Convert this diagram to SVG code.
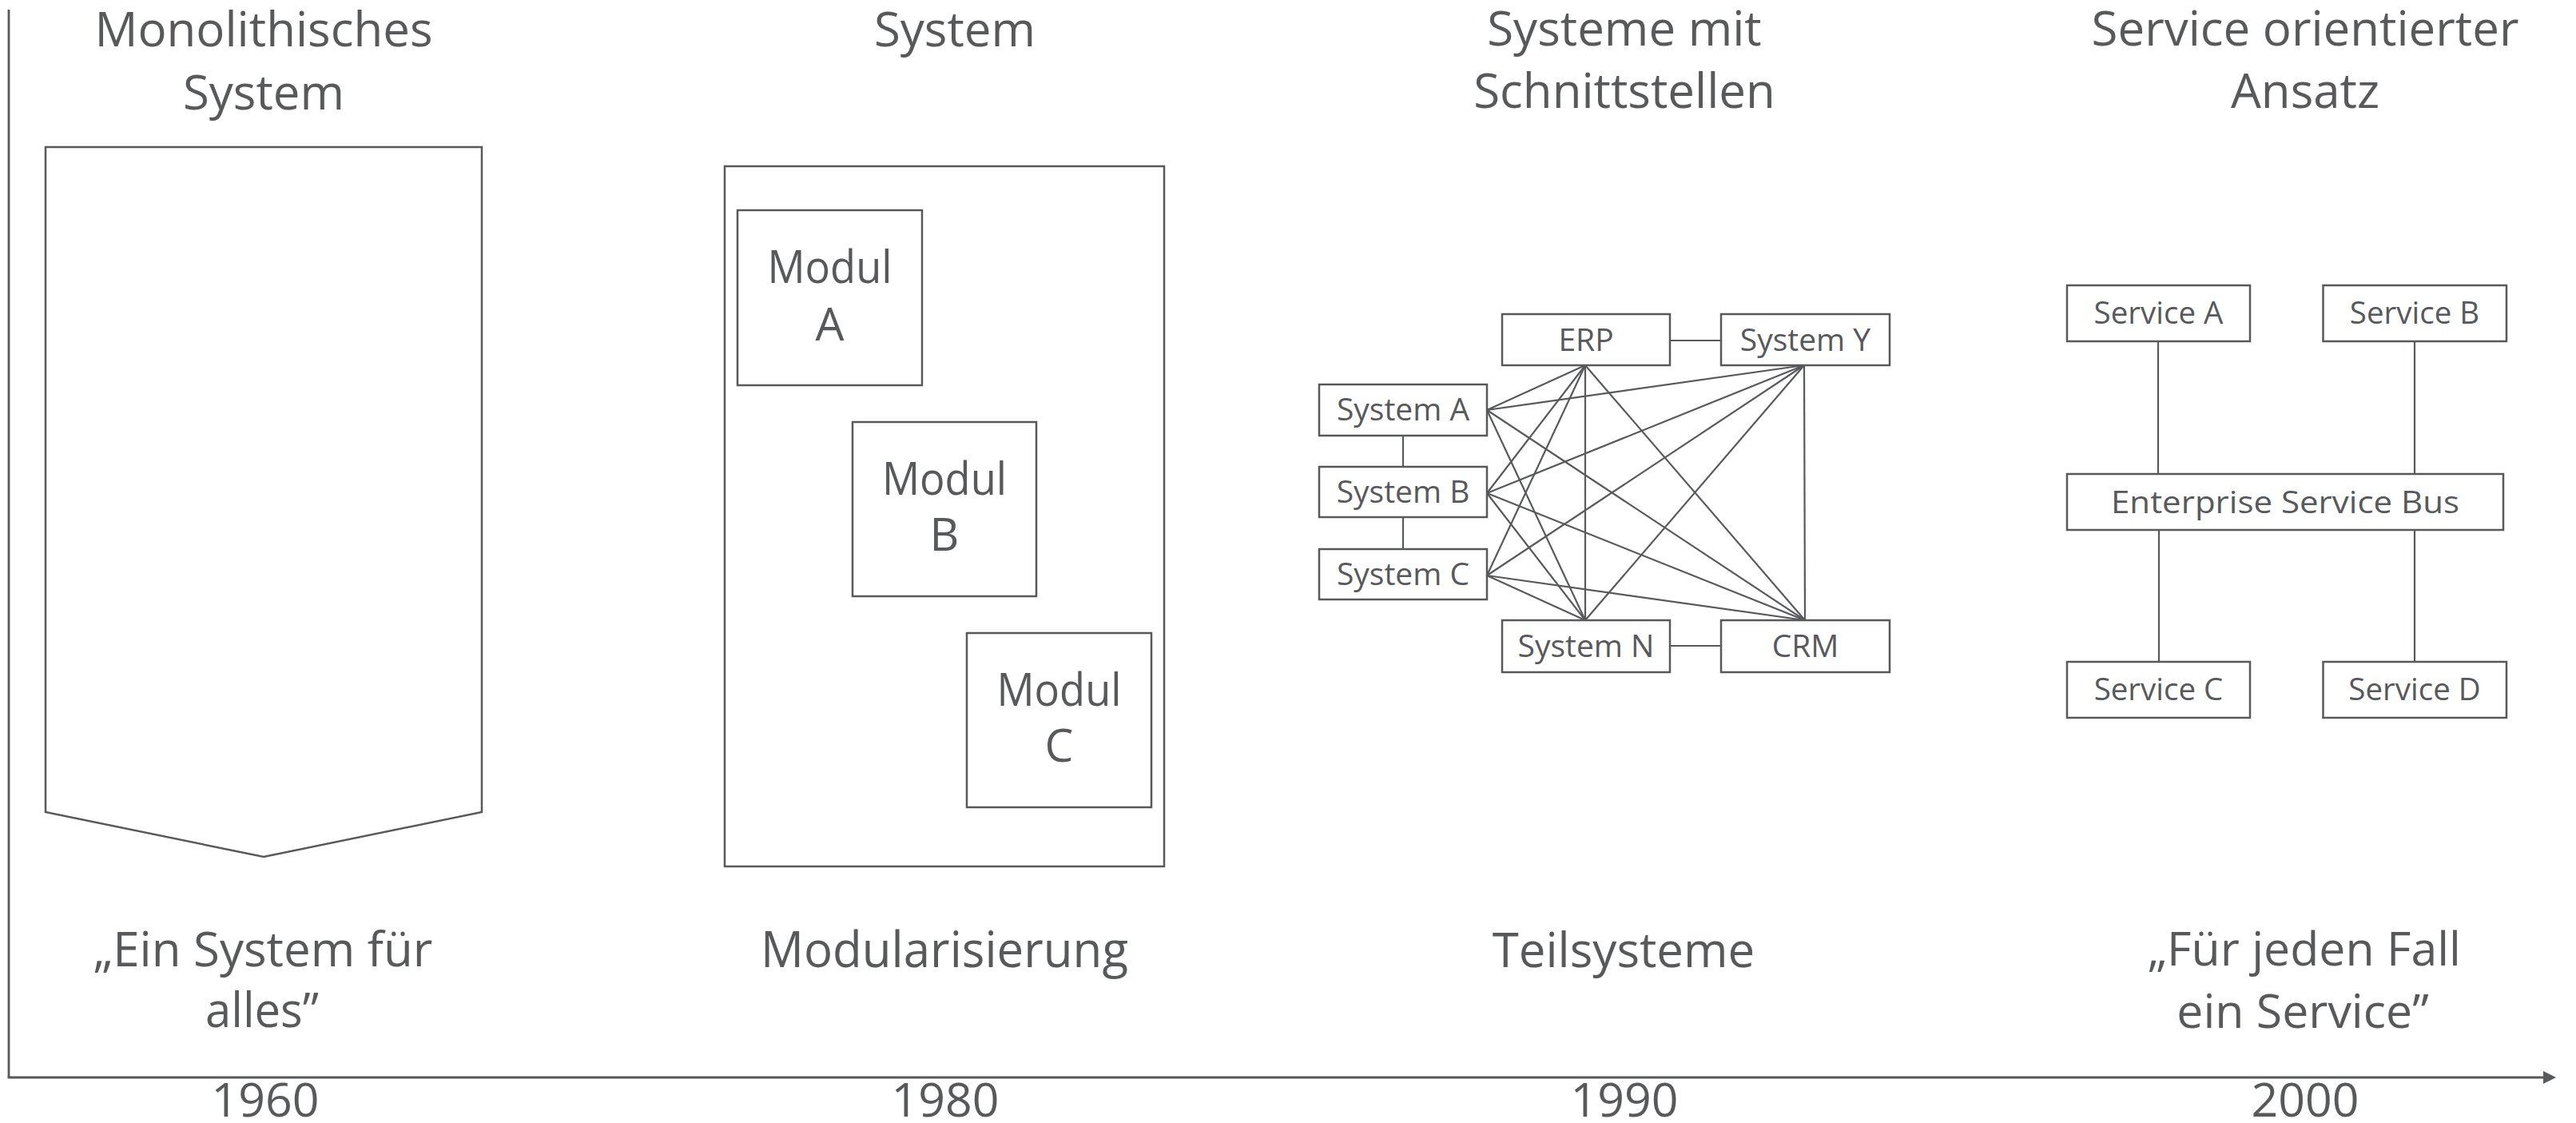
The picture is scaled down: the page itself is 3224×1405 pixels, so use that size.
<svg xmlns="http://www.w3.org/2000/svg" width="3224" height="1405" viewBox="0 0 3224 1405">
<style>
  text { font-family: "Open Sans", "Noto Sans", "Liberation Sans", sans-serif; fill: #58595b; text-anchor: middle; }
  .title { font-size: 60px; }
  .bottom { font-size: 60px; }
  .year { font-size: 59px; }
  .sys { font-size: 39px; }
  .svc { font-size: 38.5px; }
  .mod { font-size: 57px; }
  .box { fill: #ffffff; stroke: #58595b; stroke-width: 2.5; }
  .ln { stroke: #58595b; stroke-width: 2.2; fill: none; }
  .axis { stroke: #58595b; stroke-width: 2.8; fill: none; }
</style>
<rect width="3224" height="1405" fill="#ffffff"/>

<!-- Axis -->
<g id="axis">
  <line class="axis" x1="11" y1="12" x2="11" y2="1348"/>
  <line class="axis" x1="9.6" y1="1348" x2="3186" y2="1348"/>
  <polygon points="3183,1340 3199,1348 3183,1356" fill="#58595b"/>
  <text class="year" x="332" y="1397">1960</text>
  <text class="year" x="1183" y="1397">1980</text>
  <text class="year" x="2033" y="1397">1990</text>
  <text class="year" x="2885" y="1397">2000</text>
</g>

<!-- Titles -->
<g id="titles">
  <text class="title" x="330" y="58">Monolithisches</text>
  <text class="title" x="330" y="137">System</text>
  <text class="title" x="1195" y="58">System</text>
  <text class="title" x="2033" y="57">Systeme mit</text>
  <text class="title" x="2033" y="135">Schnittstellen</text>
  <text class="title" x="2885" y="57">Service orientierter</text>
  <text class="title" x="2885" y="135">Ansatz</text>
</g>

<!-- Bottom captions -->
<g id="captions">
  <text class="bottom" x="329" y="1209">„Ein System für</text>
  <text class="bottom" x="328" y="1285" textLength="142" lengthAdjust="spacingAndGlyphs">alles”</text>
  <text class="bottom" x="1182" y="1210" style="font-size:62px" textLength="460" lengthAdjust="spacingAndGlyphs">Modularisierung</text>
  <text class="bottom" x="2032" y="1210">Teilsysteme</text>
  <text class="bottom" x="2884" y="1208" style="font-size:59px">„Für jeden Fall</text>
  <text class="bottom" x="2882" y="1286" style="font-size:59px">ein Service”</text>
</g>

<!-- 1960: monolith -->
<g id="monolith">
  <polygon class="box" points="57,184 603,184 603,1016 330,1072 57,1016"/>
</g>

<!-- 1980: system with modules -->
<g id="system1980">
  <rect class="box" x="907" y="208" width="550" height="876"/>
</g>
<g id="modulA">
  <rect class="box" x="923" y="263" width="231" height="219"/>
  <text class="mod" x="1038.5" y="354" textLength="156" lengthAdjust="spacingAndGlyphs">Modul</text>
  <text class="mod" x="1038.5" y="426">A</text>
</g>
<g id="modulB">
  <rect class="box" x="1067" y="528" width="230" height="218"/>
  <text class="mod" x="1182" y="619" textLength="156" lengthAdjust="spacingAndGlyphs">Modul</text>
  <text class="mod" x="1182" y="689">B</text>
</g>
<g id="modulC">
  <rect class="box" x="1210" y="792" width="231" height="218"/>
  <text class="mod" x="1325.5" y="883" textLength="156" lengthAdjust="spacingAndGlyphs">Modul</text>
  <text class="mod" x="1325.5" y="953">C</text>
</g>

<!-- 1990 connectors -->
<g id="connectors1990">
  <line class="ln" x1="2090" y1="426" x2="2154" y2="426"/>
  <line class="ln" x1="2090" y1="808" x2="2154" y2="808"/>
  <line class="ln" x1="1756" y1="545" x2="1756" y2="584"/>
  <line class="ln" x1="1756" y1="647" x2="1756" y2="687"/>
  <!-- ERP bottom -->
  <line class="ln" x1="1984" y1="457" x2="1861" y2="513"/>
  <line class="ln" x1="1984" y1="457" x2="1861" y2="617"/>
  <line class="ln" x1="1984" y1="457" x2="1861" y2="720"/>
  <line class="ln" x1="1984" y1="457" x2="1984" y2="776"/>
  <line class="ln" x1="1984" y1="457" x2="2259" y2="776"/>
  <!-- System Y bottom -->
  <line class="ln" x1="2258" y1="457" x2="1861" y2="513"/>
  <line class="ln" x1="2258" y1="457" x2="1861" y2="617"/>
  <line class="ln" x1="2258" y1="457" x2="1861" y2="720"/>
  <line class="ln" x1="2258" y1="457" x2="1984" y2="776"/>
  <line class="ln" x1="2258" y1="457" x2="2259" y2="776"/>
  <!-- A,B,C to N and CRM -->
  <line class="ln" x1="1861" y1="513" x2="1984" y2="776"/>
  <line class="ln" x1="1861" y1="617" x2="1984" y2="776"/>
  <line class="ln" x1="1861" y1="720" x2="1984" y2="776"/>
  <line class="ln" x1="1861" y1="513" x2="2259" y2="776"/>
  <line class="ln" x1="1861" y1="617" x2="2259" y2="776"/>
  <line class="ln" x1="1861" y1="720" x2="2259" y2="776"/>
</g>

<!-- 1990 nodes -->
<g id="erp">
  <rect class="box" x="1880" y="393" width="210" height="64"/>
  <text class="sys" x="1985" y="439">ERP</text>
</g>
<g id="systemY">
  <rect class="box" x="2154" y="393" width="211" height="64"/>
  <text class="sys" x="2259.5" y="439">System Y</text>
</g>
<g id="systemA">
  <rect class="box" x="1651" y="481" width="210" height="64"/>
  <text class="sys" x="1756" y="526">System A</text>
</g>
<g id="systemB">
  <rect class="box" x="1651" y="584" width="210" height="63"/>
  <text class="sys" x="1756" y="629">System B</text>
</g>
<g id="systemC">
  <rect class="box" x="1651" y="687" width="210" height="63"/>
  <text class="sys" x="1756" y="732">System C</text>
</g>
<g id="systemN">
  <rect class="box" x="1880" y="776" width="210" height="65"/>
  <text class="sys" x="1985" y="822">System N</text>
</g>
<g id="crm">
  <rect class="box" x="2154" y="776" width="211" height="65"/>
  <text class="sys" x="2259.5" y="822">CRM</text>
</g>

<!-- 2000 connectors -->
<g id="connectors2000">
  <line class="ln" x1="2701" y1="427" x2="2701" y2="593"/>
  <line class="ln" x1="3022" y1="427" x2="3022" y2="593"/>
  <line class="ln" x1="2702" y1="663" x2="2702" y2="828"/>
  <line class="ln" x1="3022" y1="663" x2="3022" y2="828"/>
</g>

<!-- 2000 nodes -->
<g id="serviceA">
  <rect class="box" x="2587" y="357" width="229" height="70"/>
  <text class="svc" x="2701.5" y="405">Service A</text>
</g>
<g id="serviceB">
  <rect class="box" x="2907.5" y="357" width="229.5" height="70"/>
  <text class="svc" x="3022" y="405">Service B</text>
</g>
<g id="esb">
  <rect class="box" x="2587" y="593" width="546" height="70"/>
  <text class="svc" x="2860" y="642" textLength="436" lengthAdjust="spacingAndGlyphs">Enterprise Service Bus</text>
</g>
<g id="serviceC">
  <rect class="box" x="2587" y="828" width="229" height="70"/>
  <text class="svc" x="2701.5" y="876">Service C</text>
</g>
<g id="serviceD">
  <rect class="box" x="2907.5" y="828" width="229.5" height="70"/>
  <text class="svc" x="3022" y="876">Service D</text>
</g>
</svg>
